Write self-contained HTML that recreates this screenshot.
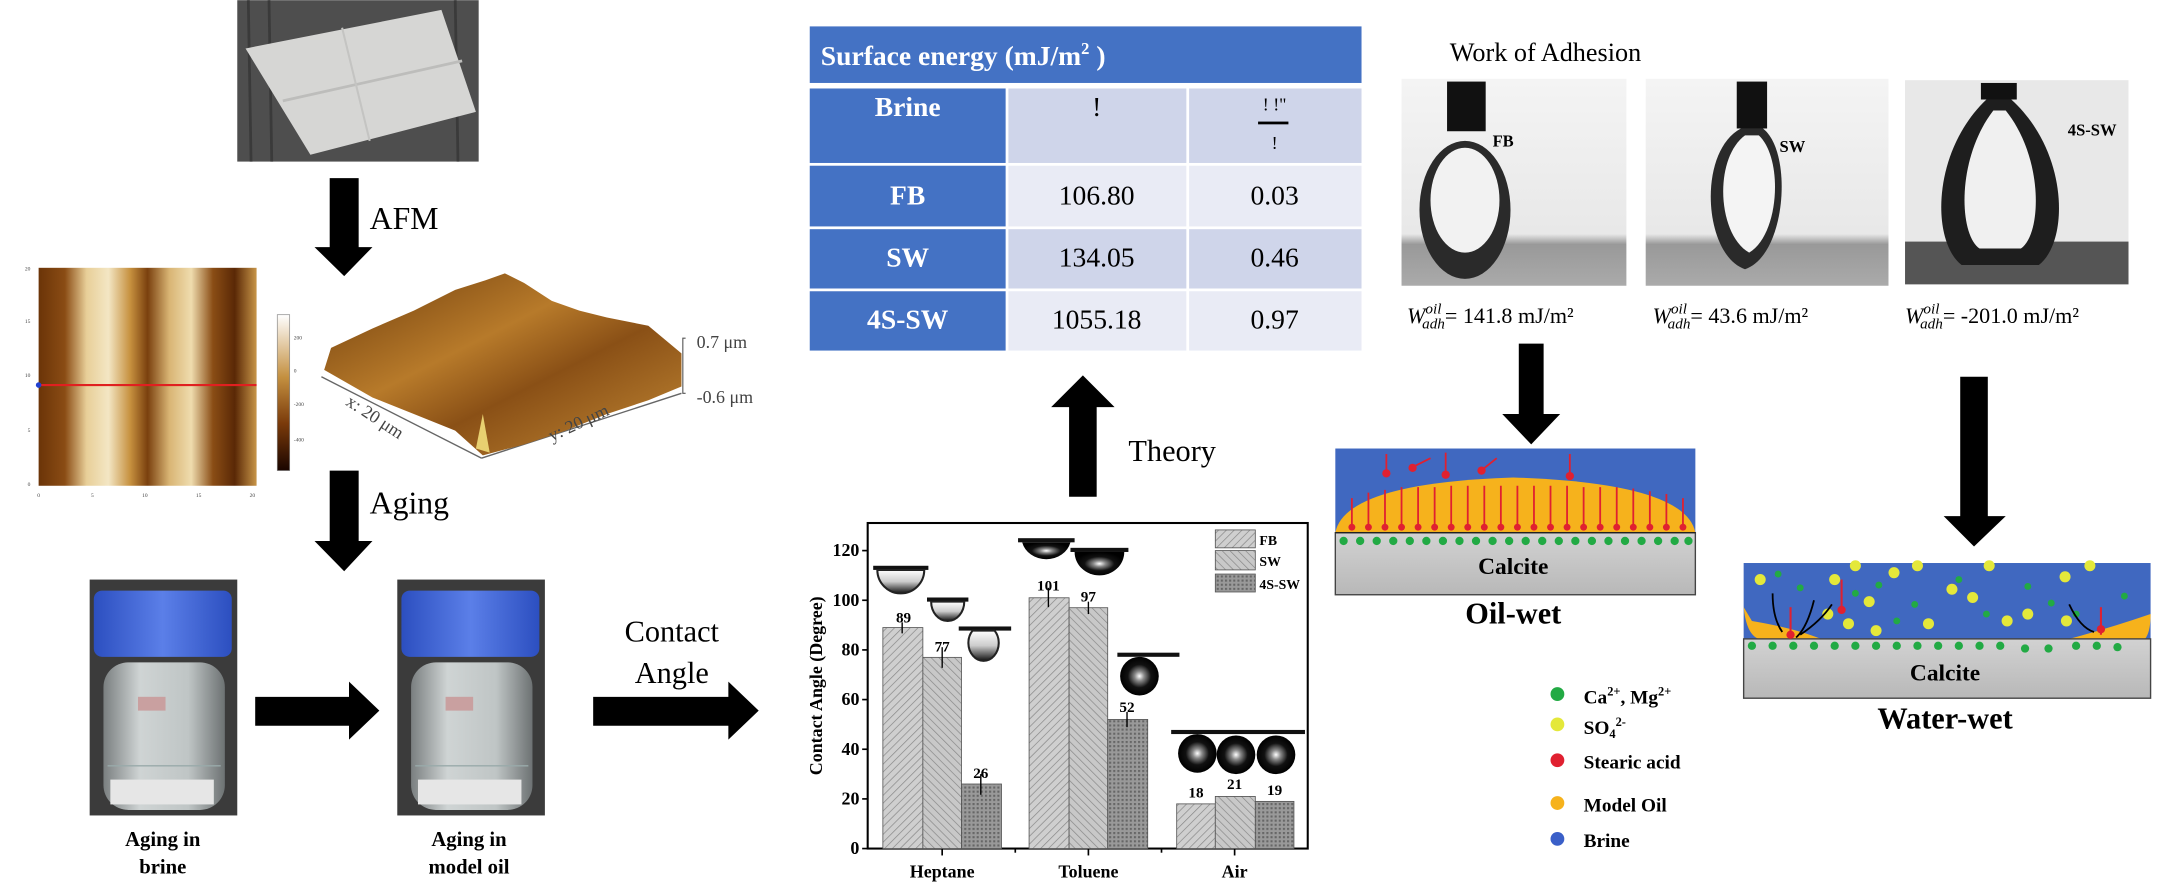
<!DOCTYPE html>
<html><head><meta charset="utf-8"><style>
html,body{margin:0;padding:0;background:#fff;}
svg{display:block}
text{font-family:"Liberation Serif",serif;}
</style></head><body>
<svg width="2163" height="886" viewBox="0 0 1568 642" xmlns="http://www.w3.org/2000/svg">
<defs>
<linearGradient id="afm" x1="0" x2="1" y1="0" y2="0">
<stop offset="0" stop-color="#6b3408"/><stop offset="0.12" stop-color="#8a4c14"/><stop offset="0.22" stop-color="#e8cf98"/><stop offset="0.32" stop-color="#f3e6c4"/><stop offset="0.42" stop-color="#c7913f"/><stop offset="0.5" stop-color="#7a400e"/><stop offset="0.6" stop-color="#d9b574"/><stop offset="0.7" stop-color="#efdcae"/><stop offset="0.8" stop-color="#8a4d15"/><stop offset="0.9" stop-color="#5a2806"/><stop offset="1" stop-color="#c89548"/>
</linearGradient>
<linearGradient id="cbar" x1="0" x2="0" y1="0" y2="1"><stop offset="0" stop-color="#fff"/><stop offset="0.4" stop-color="#c49040"/><stop offset="0.7" stop-color="#7a3a0a"/><stop offset="1" stop-color="#1a0500"/></linearGradient>
<linearGradient id="surf" x1="0" x2="1" y1="0" y2="1"><stop offset="0" stop-color="#6e3c0c"/><stop offset="0.4" stop-color="#b77a2a"/><stop offset="0.6" stop-color="#8a5016"/><stop offset="1" stop-color="#c48a35"/></linearGradient>
<linearGradient id="cap" x1="0" x2="1"><stop offset="0" stop-color="#2c4fc0"/><stop offset="0.5" stop-color="#5b7fe8"/><stop offset="1" stop-color="#2c4fc0"/></linearGradient>
<linearGradient id="glass" x1="0" x2="1"><stop offset="0" stop-color="#7a7f80"/><stop offset="0.3" stop-color="#cfd4d4"/><stop offset="0.7" stop-color="#bfc5c5"/><stop offset="1" stop-color="#6d7273"/></linearGradient>
<linearGradient id="drop" x1="0" x2="0" y1="0" y2="1"><stop offset="0" stop-color="#fff"/><stop offset="0.5" stop-color="#ccc"/><stop offset="1" stop-color="#111"/></linearGradient>
<radialGradient id="dk"><stop offset="0" stop-color="#fff"/><stop offset="0.25" stop-color="#888"/><stop offset="0.6" stop-color="#111"/><stop offset="1" stop-color="#000"/></radialGradient>
<linearGradient id="calc" x1="0" x2="0" y1="0" y2="1"><stop offset="0" stop-color="#d2d2d2"/><stop offset="1" stop-color="#b8b8b8"/></linearGradient>
<linearGradient id="dimg" x1="0" x2="0" y1="0" y2="1"><stop offset="0" stop-color="#f4f4f4"/><stop offset="0.75" stop-color="#e8e8e8"/><stop offset="0.8" stop-color="#999"/><stop offset="1" stop-color="#aaa"/></linearGradient>
<pattern id="h1" width="4" height="4" patternUnits="userSpaceOnUse" patternTransform="rotate(45)"><rect width="4" height="4" fill="#cfcfcf"/><line x1="0" y1="0" x2="0" y2="4" stroke="#888" stroke-width="1"/></pattern>
<pattern id="h2" width="4" height="4" patternUnits="userSpaceOnUse" patternTransform="rotate(-45)"><rect width="4" height="4" fill="#c8c8c8"/><line x1="0" y1="0" x2="0" y2="4" stroke="#888" stroke-width="1"/></pattern>
<pattern id="h3" width="3" height="3" patternUnits="userSpaceOnUse"><rect width="3" height="3" fill="#999"/><rect width="1.5" height="1.5" fill="#666"/></pattern>
</defs>

<!-- calcite photo -->
<rect x="172" y="0" width="175" height="117" fill="#4e4e4e"/>
<g stroke="#3a3a3a" stroke-width="2"><line x1="180" y1="0" x2="182" y2="117"/><line x1="195" y1="0" x2="197" y2="117"/><line x1="330" y1="0" x2="332" y2="117"/></g>
<polygon points="178,35 320,7 345,81 225,112" fill="#d6d6d4"/>
<line x1="205" y1="73" x2="335" y2="44" stroke="#bdbdbb" stroke-width="2"/>
<line x1="248" y1="20" x2="268" y2="102" stroke="#c4c4c2" stroke-width="1.5"/>

<!-- AFM arrow -->
<polygon points="239,129 260,129 260,179 270,179 249.5,200 228,179 239,179" fill="#000"/>
<text x="268" y="166" font-size="23">AFM</text>

<!-- AFM 2D -->
<rect x="28" y="194" width="158" height="158" fill="url(#afm)"/>
<line x1="28" y1="279" x2="186" y2="279" stroke="#e02020" stroke-width="1.5"/>
<circle cx="28" cy="279" r="2" fill="#2040d0"/>
<g font-size="4" fill="#444" font-family="Liberation Sans"><text x="18" y="196">20</text><text x="18" y="234">15</text><text x="18" y="273">10</text><text x="20" y="313">5</text><text x="20" y="352">0</text>
<text x="27" y="360">0</text><text x="66" y="360">5</text><text x="103" y="360">10</text><text x="142" y="360">15</text><text x="181" y="360">20</text></g>
<rect x="201" y="228" width="9" height="113" fill="url(#cbar)" stroke="#888" stroke-width="0.5"/>
<g font-size="4" fill="#444" font-family="Liberation Sans"><text x="213" y="246">200</text><text x="213" y="270">0</text><text x="213" y="294">-200</text><text x="213" y="320">-400</text></g>

<!-- AFM 3D -->
<line x1="233" y1="273" x2="349" y2="332" stroke="#666" stroke-width="1"/>
<line x1="349" y1="332" x2="494" y2="285" stroke="#666" stroke-width="1"/>
<polygon points="235,268 240,252 270,238 300,225 330,210 352,203 366,198 380,205 400,218 420,225 440,230 470,236 494,256 494,280 470,290 440,300 410,312 380,322 350,330 330,312 300,300 270,288" fill="url(#surf)"/>
<polygon points="345,325 350,300 355,328" fill="#e8d070"/>
<path d="M497,245 h-2 v40 h2" fill="none" stroke="#555" stroke-width="0.8"/>
<g font-family="Liberation Sans" fill="#444" font-size="13"><text x="505" y="252">0.7 μm</text><text x="505" y="292">-0.6 μm</text>
<text x="250" y="293" transform="rotate(33 250 293)">x: 20 μm</text><text x="400" y="320" transform="rotate(-25 400 320)">y: 20 μm</text></g>

<!-- Aging arrow -->
<polygon points="239,341 260,341 260,392 270,392 249.5,414 228,392 239,392" fill="#000"/>
<text x="268" y="372" font-size="23">Aging</text>

<!-- bottles -->
<g>
<rect x="65" y="420" width="107" height="171" fill="#3b3b3b"/>
<rect x="75" y="480" width="88" height="107" rx="18" fill="url(#glass)"/>
<rect x="68" y="428" width="100" height="48" rx="6" fill="url(#cap)"/>
<line x1="78" y1="555" x2="160" y2="555" stroke="#9aa" stroke-width="1"/>
<rect x="80" y="565" width="75" height="18" fill="#e6e6e6"/>
<rect x="100" y="505" width="20" height="10" fill="#c9a0a0"/>
</g>
<g>
<rect x="288" y="420" width="107" height="171" fill="#3b3b3b"/>
<rect x="298" y="480" width="88" height="107" rx="18" fill="url(#glass)"/>
<rect x="291" y="428" width="100" height="48" rx="6" fill="url(#cap)"/>
<line x1="301" y1="555" x2="383" y2="555" stroke="#9aa" stroke-width="1"/>
<rect x="303" y="565" width="75" height="18" fill="#e6e6e6"/>
<rect x="323" y="505" width="20" height="10" fill="#c9a0a0"/>
</g>
<g font-weight="bold" font-size="15" text-anchor="middle"><text x="118" y="613">Aging in</text><text x="118" y="633">brine</text><text x="340" y="613">Aging in</text><text x="340" y="633">model oil</text></g>

<!-- horizontal arrows -->
<polygon points="185,505 253,505 253,494 275,515 253,536 253,526 185,526" fill="#000"/>
<polygon points="430,505 528,505 528,494 550,515 528,536 528,526 430,526" fill="#000"/>
<g font-size="22" text-anchor="middle"><text x="487" y="465">Contact</text><text x="487" y="495">Angle</text></g>

<!-- chart -->
<rect x="629" y="379" width="319" height="236" fill="#fff" stroke="#000" stroke-width="1.5"/>
<g stroke="#000" stroke-width="1.2">
<line x1="625" y1="615" x2="629" y2="615"/><line x1="625" y1="579" x2="629" y2="579"/><line x1="625" y1="543" x2="629" y2="543"/><line x1="625" y1="507" x2="629" y2="507"/><line x1="625" y1="471" x2="629" y2="471"/><line x1="625" y1="435" x2="629" y2="435"/><line x1="625" y1="399" x2="629" y2="399"/>
<line x1="683" y1="615" x2="683" y2="620"/><line x1="789" y1="615" x2="789" y2="620"/><line x1="895" y1="615" x2="895" y2="620"/><line x1="736" y1="615" x2="736" y2="618"/><line x1="842" y1="615" x2="842" y2="618"/>
</g>
<g font-weight="bold" font-size="13" text-anchor="end"><text x="623" y="619">0</text><text x="623" y="583">20</text><text x="623" y="547">40</text><text x="623" y="511">60</text><text x="623" y="475">80</text><text x="623" y="439">100</text><text x="623" y="403">120</text></g>
<text x="596" y="497" font-weight="bold" font-size="13" text-anchor="middle" transform="rotate(-90 596 497)">Contact Angle (Degree)</text>
<g font-weight="bold" font-size="13" text-anchor="middle"><text x="683" y="636">Heptane</text><text x="789" y="636">Toluene</text><text x="895" y="636">Air</text></g>
<g stroke="#555" stroke-width="0.6">
<rect x="640" y="454.8" width="29" height="160.2" fill="url(#h1)"/>
<rect x="669" y="476.4" width="28" height="138.6" fill="url(#h2)"/>
<rect x="697" y="568.2" width="29" height="46.8" fill="url(#h3)"/>
<rect x="746" y="433.2" width="29" height="181.8" fill="url(#h1)"/>
<rect x="775" y="440.4" width="28" height="174.6" fill="url(#h2)"/>
<rect x="803" y="521.4" width="29" height="93.6" fill="url(#h3)"/>
<rect x="853" y="582.6" width="28" height="32.4" fill="url(#h1)"/>
<rect x="881" y="577.2" width="29" height="37.8" fill="url(#h2)"/>
<rect x="910" y="580.8" width="28" height="34.2" fill="url(#h3)"/>
<rect x="881" y="384" width="29" height="13" fill="url(#h1)"/>
<rect x="881" y="399" width="29" height="14" fill="url(#h2)"/>
<rect x="881" y="416" width="29" height="13" fill="url(#h3)"/>
</g>
<g font-weight="bold" font-size="10"><text x="913" y="395">FB</text><text x="913" y="410">SW</text><text x="913" y="427">4S-SW</text></g>
<g font-weight="bold" font-size="11" text-anchor="middle"><text x="655" y="451">89</text><text x="683" y="472">77</text><text x="711" y="564">26</text><text x="760" y="428">101</text><text x="789" y="436">97</text><text x="817" y="516">52</text><text x="867" y="578">18</text><text x="895" y="572">21</text><text x="924" y="576">19</text></g>
<g stroke="#000" stroke-width="1"><line x1="654" y1="451" x2="654" y2="459"/><line x1="683" y1="469" x2="683" y2="484"/><line x1="711" y1="561" x2="711" y2="576"/><line x1="760" y1="426" x2="760" y2="440"/><line x1="789" y1="436" x2="789" y2="445"/><line x1="817" y1="516" x2="817" y2="527"/></g>
<!-- chart drops -->
<g>
<rect x="633" y="410" width="40" height="3" fill="#111"/><path d="M636,413 a17,17 0 0 0 34,0 z" fill="url(#drop)" stroke="#222" stroke-width="1.5"/>
<rect x="672" y="433" width="30" height="3" fill="#111"/><path d="M675,436 a12,14 0 0 0 24,0 z" fill="url(#drop)" stroke="#222" stroke-width="1.5"/>
<rect x="695" y="454" width="38" height="3" fill="#111"/><path d="M705,457 a11,13 0 1 0 16,0 z" fill="url(#drop)" stroke="#222" stroke-width="1.5"/>
<rect x="738" y="390" width="41" height="3" fill="#111"/><path d="M741,393 a18,16 0 0 0 35,0 z" fill="url(#dk)"/>
<rect x="776" y="397" width="42" height="3" fill="#111"/><path d="M779,400 a18,17 0 0 0 36,0 z" fill="url(#dk)"/>
<rect x="810" y="473" width="45" height="3" fill="#111"/><circle cx="826" cy="490" r="14" fill="url(#dk)"/>
<rect x="849" y="529" width="97" height="3" fill="#111"/>
<circle cx="868" cy="546" r="14" fill="url(#dk)"/><circle cx="896" cy="547" r="14" fill="url(#dk)"/><circle cx="925" cy="547" r="14" fill="url(#dk)"/>
</g>

<!-- theory arrow -->
<polygon points="775,360 795,360 795,295 808,295 785,272 762,295 775,295" fill="#000"/>
<text x="818" y="334" font-size="22">Theory</text>

<!-- table -->
<rect x="587" y="19" width="400" height="41" fill="#4472c4"/>
<text x="595" y="47" font-size="20" font-weight="bold" fill="#fff">Surface energy (mJ/m<tspan font-size="12" dy="-8">2</tspan><tspan dy="8"> )</tspan></text>
<g>
<rect x="587" y="64" width="142" height="54" fill="#4472c4"/><rect x="731" y="64" width="129" height="54" fill="#cfd5ea"/><rect x="862" y="64" width="125" height="54" fill="#cfd5ea"/>
<rect x="587" y="120" width="142" height="44" fill="#4472c4"/><rect x="731" y="120" width="129" height="44" fill="#e9ebf5"/><rect x="862" y="120" width="125" height="44" fill="#e9ebf5"/>
<rect x="587" y="166" width="142" height="43" fill="#4472c4"/><rect x="731" y="166" width="129" height="43" fill="#cfd5ea"/><rect x="862" y="166" width="125" height="43" fill="#cfd5ea"/>
<rect x="587" y="211" width="142" height="43" fill="#4472c4"/><rect x="731" y="211" width="129" height="43" fill="#e9ebf5"/><rect x="862" y="211" width="125" height="43" fill="#e9ebf5"/>
</g>
<g font-size="20" font-weight="bold" fill="#fff" text-anchor="middle"><text x="658" y="84">Brine</text><text x="658" y="148">FB</text><text x="658" y="193">SW</text><text x="658" y="238">4S-SW</text></g>
<g font-size="20" text-anchor="middle"><text x="795" y="84">!</text><text x="795" y="148">106.80</text><text x="795" y="193">134.05</text><text x="795" y="238">1055.18</text>
<text x="924" y="148">0.03</text><text x="924" y="193">0.46</text><text x="924" y="238">0.97</text>
<text x="924" y="80" font-size="13">! !"</text><text x="924" y="108" font-size="13">!</text></g>
<rect x="912" y="88" width="22" height="2" fill="#000"/>

<!-- work of adhesion -->
<text x="1051" y="44" font-size="19">Work of Adhesion</text>
<rect x="1016" y="57" width="163" height="150" fill="url(#dimg)"/>
<rect x="1049" y="59" width="28" height="36" fill="#111"/>
<ellipse cx="1062" cy="152" rx="33" ry="50" fill="#2a2a2a"/><ellipse cx="1062" cy="145" rx="25" ry="38" fill="#f2f2f2"/>
<text x="1082" y="106" font-size="12" font-weight="bold">FB</text>
<rect x="1193" y="57" width="176" height="150" fill="url(#dimg)"/>
<rect x="1259" y="59" width="22" height="34" fill="#111"/>
<path d="M1262,93 C1230,110 1235,185 1265,195 C1295,185 1300,110 1278,93 Z" fill="#2a2a2a"/><path d="M1265,98 C1242,115 1245,170 1268,183 C1290,170 1293,115 1275,98 Z" fill="#f4f4f4"/>
<text x="1290" y="110" font-size="12" font-weight="bold">SW</text>
<rect x="1381" y="58" width="162" height="148" fill="#e8e8e8"/><rect x="1381" y="175" width="162" height="31" fill="#555"/>
<rect x="1436" y="60" width="26" height="12" fill="#111"/>
<path d="M1440,72 C1400,110 1400,175 1422,192 L1478,192 C1500,175 1500,110 1458,72 Z" fill="#1e1e1e"/><path d="M1445,80 C1418,115 1420,170 1435,180 L1465,180 C1480,170 1482,115 1454,80 Z" fill="#f0f0f0"/>
<text x="1499" y="98" font-size="12" font-weight="bold">4S-SW</text>
<g font-size="16"><text x="1020" y="234"><tspan font-style="italic">W</tspan><tspan font-style="italic" font-size="11" dx="0" dy="-7">oil</tspan><tspan font-style="italic" font-size="11" dx="-14" dy="11">adh</tspan><tspan dy="-4">= 141.8 mJ/m²</tspan></text>
<text x="1198" y="234"><tspan font-style="italic">W</tspan><tspan font-style="italic" font-size="11" dy="-7">oil</tspan><tspan font-style="italic" font-size="11" dx="-14" dy="11">adh</tspan><tspan dy="-4">= 43.6 mJ/m²</tspan></text>
<text x="1381" y="234"><tspan font-style="italic">W</tspan><tspan font-style="italic" font-size="11" dy="-7">oil</tspan><tspan font-style="italic" font-size="11" dx="-14" dy="11">adh</tspan><tspan dy="-4">= -201.0 mJ/m²</tspan></text></g>

<!-- down arrows right -->
<polygon points="1101,249 1119,249 1119,300 1131,300 1110,322 1089,300 1101,300" fill="#000"/>
<polygon points="1421,273 1441,273 1441,374 1454,374 1431,396 1409,374 1421,374" fill="#000"/>

<!-- oil-wet -->
<rect x="968" y="325" width="261" height="62" fill="#4068c0"/>
<path d="M968,386 Q975,350 1097,346 Q1222,350 1229,386 Z" fill="#f6b21c"/>
<rect x="968" y="386" width="261" height="45" fill="url(#calc)" stroke="#444" stroke-width="1"/>
<line x1="968" y1="386" x2="1229" y2="386" stroke="#222" stroke-width="1"/>
<g fill="#22aa44">
<circle cx="974" cy="392" r="3"/><circle cx="986" cy="392" r="3"/><circle cx="998" cy="392" r="3"/><circle cx="1010" cy="392" r="3"/><circle cx="1022" cy="392" r="3"/><circle cx="1034" cy="392" r="3"/><circle cx="1046" cy="392" r="3"/><circle cx="1058" cy="392" r="3"/><circle cx="1070" cy="392" r="3"/><circle cx="1082" cy="392" r="3"/><circle cx="1094" cy="392" r="3"/><circle cx="1106" cy="392" r="3"/><circle cx="1118" cy="392" r="3"/><circle cx="1130" cy="392" r="3"/><circle cx="1142" cy="392" r="3"/><circle cx="1154" cy="392" r="3"/><circle cx="1166" cy="392" r="3"/><circle cx="1178" cy="392" r="3"/><circle cx="1190" cy="392" r="3"/><circle cx="1202" cy="392" r="3"/><circle cx="1214" cy="392" r="3"/><circle cx="1224" cy="392" r="3"/>
</g>
<g stroke="#e02030" stroke-width="1.3" fill="#e02030">
<path d="M980,383 v-22 M992,383 v-26 M1004,383 v-28 M1016,383 v-30 M1028,383 v-30 M1040,383 v-30 M1052,383 v-31 M1064,383 v-31 M1076,383 v-31 M1088,383 v-31 M1100,383 v-31 M1112,383 v-31 M1124,383 v-31 M1136,383 v-31 M1148,383 v-30 M1160,383 v-30 M1172,383 v-30 M1184,383 v-29 M1196,383 v-27 M1208,383 v-25 M1220,383 v-22"/>
<path d="M1005,342 v-13 M1048,344 v-16 M1138,345 v-16" />
<path d="M1025,338 l12,-6 M1075,340 l10,-8"/>
</g>
<g fill="#e02030"><circle cx="980" cy="382" r="2.5"/><circle cx="992" cy="382" r="2.5"/><circle cx="1004" cy="382" r="2.5"/><circle cx="1016" cy="382" r="2.5"/><circle cx="1028" cy="382" r="2.5"/><circle cx="1040" cy="382" r="2.5"/><circle cx="1052" cy="382" r="2.5"/><circle cx="1064" cy="382" r="2.5"/><circle cx="1076" cy="382" r="2.5"/><circle cx="1088" cy="382" r="2.5"/><circle cx="1100" cy="382" r="2.5"/><circle cx="1112" cy="382" r="2.5"/><circle cx="1124" cy="382" r="2.5"/><circle cx="1136" cy="382" r="2.5"/><circle cx="1148" cy="382" r="2.5"/><circle cx="1160" cy="382" r="2.5"/><circle cx="1172" cy="382" r="2.5"/><circle cx="1184" cy="382" r="2.5"/><circle cx="1196" cy="382" r="2.5"/><circle cx="1208" cy="382" r="2.5"/><circle cx="1220" cy="382" r="2.5"/>
<circle cx="1005" cy="343" r="3"/><circle cx="1048" cy="344" r="3"/><circle cx="1138" cy="345" r="3"/><circle cx="1024" cy="339" r="3"/><circle cx="1074" cy="341" r="3"/></g>
<text x="1097" y="416" font-size="17" font-weight="bold" text-anchor="middle">Calcite</text>
<text x="1097" y="452" font-size="22" font-weight="bold" text-anchor="middle">Oil-wet</text>

<!-- water-wet -->
<rect x="1264" y="408" width="295" height="55" fill="#4068c0"/>
<path d="M1264,440 Q1266,460 1275,463 L1320,463 Q1300,455 1270,450 Z" fill="#f6b21c"/>
<path d="M1559,445 Q1530,455 1500,463 L1555,463 Q1559,458 1559,445 Z" fill="#f6b21c"/>
<rect x="1264" y="463" width="295" height="43" fill="url(#calc)" stroke="#444" stroke-width="1"/>
<g fill="#22aa44"><circle cx="1270" cy="468" r="3"/><circle cx="1285" cy="468" r="3"/><circle cx="1300" cy="468" r="3"/><circle cx="1315" cy="468" r="3"/><circle cx="1330" cy="468" r="3"/><circle cx="1345" cy="468" r="3"/><circle cx="1360" cy="468" r="3"/><circle cx="1375" cy="468" r="3"/><circle cx="1390" cy="468" r="3"/><circle cx="1405" cy="468" r="3"/><circle cx="1420" cy="468" r="3"/><circle cx="1435" cy="468" r="3"/><circle cx="1450" cy="468" r="3"/><circle cx="1468" cy="470" r="3"/><circle cx="1485" cy="470" r="3"/><circle cx="1505" cy="468" r="3"/><circle cx="1520" cy="468" r="3"/><circle cx="1535" cy="469" r="3"/>
<circle cx="1289" cy="416" r="2.5"/><circle cx="1305" cy="426" r="2.5"/><circle cx="1345" cy="430" r="2.5"/><circle cx="1362" cy="424" r="2.5"/><circle cx="1388" cy="438" r="2.5"/><circle cx="1420" cy="420" r="2.5"/><circle cx="1440" cy="445" r="2.5"/><circle cx="1470" cy="425" r="2.5"/><circle cx="1487" cy="437" r="2.5"/><circle cx="1505" cy="445" r="2.5"/><circle cx="1540" cy="432" r="2.5"/><circle cx="1375" cy="450" r="2.5"/></g>
<g fill="#e4e83a"><circle cx="1276" cy="420" r="4"/><circle cx="1330" cy="420" r="4"/><circle cx="1345" cy="410" r="4"/><circle cx="1355" cy="436" r="4"/><circle cx="1325" cy="445" r="4"/><circle cx="1340" cy="452" r="4"/><circle cx="1373" cy="415" r="4"/><circle cx="1390" cy="410" r="4"/><circle cx="1415" cy="427" r="4"/><circle cx="1398" cy="452" r="4"/><circle cx="1430" cy="433" r="4"/><circle cx="1442" cy="410" r="4"/><circle cx="1455" cy="450" r="4"/><circle cx="1497" cy="418" r="4"/><circle cx="1515" cy="410" r="4"/><circle cx="1498" cy="450" r="4"/><circle cx="1470" cy="445" r="4"/><circle cx="1360" cy="457" r="4"/></g>
<g stroke="#e02030" stroke-width="1.5"><line x1="1298" y1="440" x2="1298" y2="462"/><line x1="1335" y1="420" x2="1335" y2="442"/><line x1="1523" y1="440" x2="1523" y2="460"/></g>
<g fill="#e02030"><circle cx="1298" cy="460" r="3"/><circle cx="1335" cy="442" r="3"/><circle cx="1523" cy="456" r="3"/></g>
<g stroke="#000" stroke-width="1.3" fill="none"><path d="M1285,430 Q1285,448 1292,458"/><path d="M1315,435 Q1310,455 1302,462"/><path d="M1305,460 Q1320,450 1328,438"/><path d="M1500,438 Q1508,455 1518,458"/></g>
<text x="1410" y="493" font-size="17" font-weight="bold" text-anchor="middle">Calcite</text>
<text x="1410" y="528" font-size="22" font-weight="bold" text-anchor="middle">Water-wet</text>

<!-- legend -->
<circle cx="1129" cy="503" r="5" fill="#22aa44"/><circle cx="1129" cy="525" r="5" fill="#e4e83a"/><circle cx="1129" cy="551" r="5" fill="#e02030"/><circle cx="1129" cy="582" r="5" fill="#f6b21c"/><circle cx="1129" cy="608" r="5" fill="#3a5fc8"/>
<g font-size="14" font-weight="bold"><text x="1148" y="510">Ca<tspan font-size="9" dy="-6">2+</tspan><tspan dy="6">, Mg</tspan><tspan font-size="9" dy="-6">2+</tspan></text>
<text x="1148" y="532">SO<tspan font-size="9" dy="3">4</tspan><tspan font-size="9" dy="-9">2-</tspan></text>
<text x="1148" y="557">Stearic acid</text><text x="1148" y="588">Model Oil</text><text x="1148" y="614">Brine</text></g>
</svg>
</body></html>
